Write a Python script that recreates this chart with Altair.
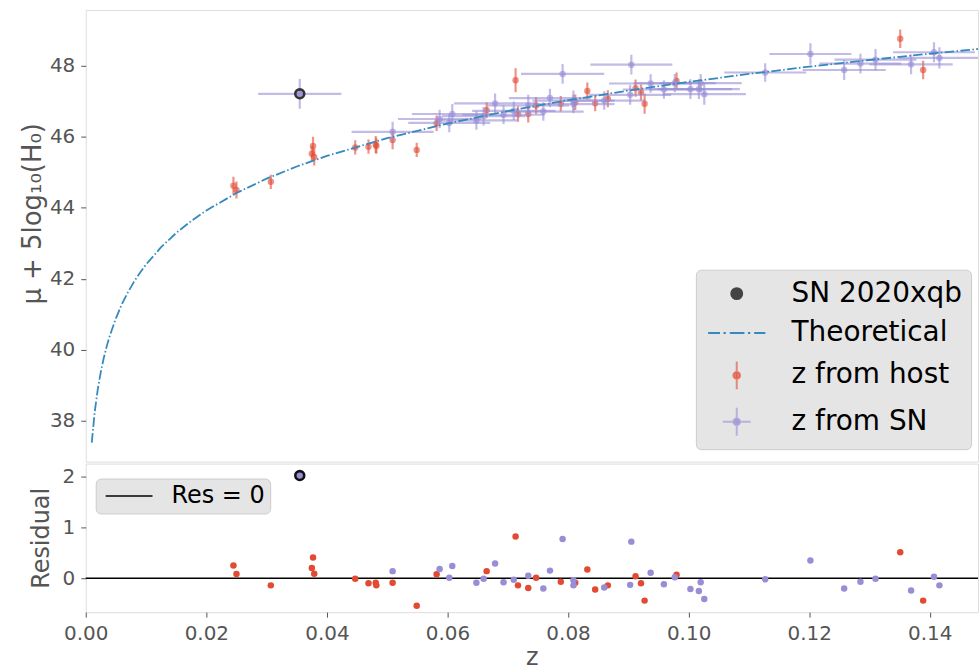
import altair as alt
import pandas as pd

C_RED = "#E24A33"
C_PURPLE = "#988ED5"
C_BLUE = "#348ABD"
GREY = "#555555"

# ---- theoretical curve ----
theory_z = [0.001, 0.0015, 0.002, 0.0025, 0.003, 0.0035, 0.004, 0.005, 0.006, 0.007, 0.008, 0.009,
            0.010, 0.0125, 0.015, 0.0175, 0.02, 0.025, 0.03, 0.035, 0.04, 0.05, 0.06, 0.07, 0.08,
            0.09, 0.10, 0.11, 0.12, 0.13, 0.14, 0.148]
theory_mu = [37.386, 38.267, 38.893, 39.378, 39.775, 40.110, 40.401, 40.887, 41.285, 41.621, 41.913, 42.170,
             42.401, 42.890, 43.290, 43.628, 43.923, 44.415, 44.820, 45.162, 45.460, 45.961, 46.373, 46.724, 47.030,
             47.301, 47.546, 47.768, 47.973, 48.162, 48.338, 48.471]

# ---- z from host ----
host_z = [0.0245, 0.0250, 0.0307, 0.0375, 0.0377, 0.0379, 0.0447, 0.0469, 0.0481, 0.0482, 0.0509, 0.0549,
          0.0582, 0.0665, 0.0713, 0.0717, 0.0734, 0.0747, 0.0788, 0.0812, 0.0832, 0.0845, 0.0866, 0.0912,
          0.0921, 0.0927, 0.0980, 0.1351, 0.1389]
host_mu = [44.62, 44.50, 44.73, 45.52, 45.74, 45.43, 45.70, 45.72, 45.78, 45.74, 45.91, 45.63,
           46.38, 46.75, 47.59, 46.64, 46.64, 46.88, 46.93, 46.97, 47.29, 46.94, 47.07, 47.37,
           47.25, 46.93, 47.57, 48.76, 47.88]
host_dmu = [0.25, 0.24, 0.20, 0.22, 0.26, 0.24, 0.20, 0.20, 0.24, 0.22, 0.26, 0.20,
            0.22, 0.22, 0.34, 0.22, 0.24, 0.24, 0.22, 0.22, 0.24, 0.22, 0.24, 0.24,
            0.22, 0.28, 0.24, 0.26, 0.26]
host_res = [0.25, 0.085, -0.14, 0.20, 0.41, 0.09, -0.01, -0.10, -0.09, -0.14, -0.09, -0.54,
            0.08, 0.14, 0.82, -0.14, -0.19, 0.01, -0.07, -0.09, 0.17, -0.22, -0.14, 0.04,
            -0.10, -0.44, 0.07, 0.51, -0.44]

# ---- z from SN ----
sn_z = [0.0509, 0.0587, 0.0603, 0.0608, 0.0648, 0.0660, 0.0679, 0.0693, 0.0710, 0.0734, 0.0759, 0.0770,
        0.0791, 0.0809, 0.0809, 0.0860, 0.0903, 0.0905, 0.0937, 0.0959, 0.0977, 0.1003, 0.1017, 0.1020,
        0.1026, 0.1127, 0.1202, 0.1258, 0.1285, 0.1310, 0.1369, 0.1407, 0.1416]
sn_mu = [46.14, 46.50, 46.39, 46.64, 46.46, 46.58, 46.94, 46.62, 46.73, 46.88, 46.71, 47.09,
         47.77, 46.92, 47.02, 47.02, 47.18, 48.03, 47.50, 47.33, 47.51, 47.34, 47.34, 47.51,
         47.20, 47.81, 48.33, 47.88, 48.06, 48.17, 48.04, 48.38, 48.22]
sn_dmu = [0.28, 0.26, 0.26, 0.28, 0.26, 0.26, 0.28, 0.26, 0.26, 0.30, 0.26, 0.26,
          0.28, 0.26, 0.28, 0.26, 0.28, 0.28, 0.26, 0.26, 0.26, 0.28, 0.28, 0.26,
          0.30, 0.26, 0.30, 0.28, 0.28, 0.30, 0.28, 0.28, 0.30]
sn_dz = [0.0068, 0.0069, 0.0068, 0.0067, 0.0068, 0.0069, 0.0068, 0.0068, 0.0069, 0.0068, 0.0067, 0.0068,
         0.0069, 0.0068, 0.0068, 0.0069, 0.0068, 0.0068, 0.0069, 0.0068, 0.0068, 0.0069, 0.0068, 0.0068,
         0.0069, 0.0068, 0.0068, 0.0069, 0.0068, 0.0068, 0.0069, 0.0068, 0.0068]
sn_res = [0.14, 0.18, 0.01, 0.24, -0.09, -0.01, 0.29, -0.08, -0.03, 0.05, -0.20, 0.15,
          0.77, -0.14, -0.04, -0.18, -0.13, 0.72, 0.11, -0.12, 0.02, -0.21, -0.25, -0.08,
          -0.41, -0.02, 0.35, -0.20, -0.07, -0.01, -0.24, 0.03, -0.14]

# ---- SN 2020xqb ----
xqb_z = [0.0355]
xqb_mu = [47.21]
xqb_dmu = [0.42]
xqb_dz = [0.0069]
xqb_res = [2.02]

legend_labels = ["SN 2020xqb", "Theoretical", "z from host", "z from SN"]
res_label = ["Res = 0"]
x_ticks = [0.0, 0.02, 0.04, 0.06, 0.08, 0.10, 0.12, 0.14]
y_top_ticks = [38, 40, 42, 44, 46, 48]
y_bot_ticks = [0, 1, 2]

# ---- tables ----
host = pd.DataFrame({"z": host_z, "mu": host_mu, "dmu": host_dmu, "res": host_res})
sn = pd.DataFrame({"z": sn_z, "mu": sn_mu, "dmu": sn_dmu, "dz": sn_dz, "res": sn_res})
xqb = pd.DataFrame({"z": xqb_z, "mu": xqb_mu, "dmu": xqb_dmu, "dz": xqb_dz, "res": xqb_res})
theory = pd.DataFrame({"z": theory_z, "mu": theory_mu})
leg_df = pd.DataFrame({"series": legend_labels, "z": [-1.0] * 4, "mu": [30.0] * 4})
zero_df = pd.DataFrame({"y": [0.0], "lab": res_label})

x_scale = alt.Scale(domain=[0, 0.148], nice=False, zero=False)
y_top = alt.Scale(domain=[36.85, 49.57], nice=False, zero=False)
y_bot = alt.Scale(domain=[-0.667, 2.255], nice=False, zero=False)

common_axis = dict(domain=False, grid=False, tickSize=5, tickColor=GREY, tickWidth=1,
                   labelColor=GREY, labelFontSize=20, labelFont="DejaVu Sans",
                   titleColor=GREY, titleFont="DejaVu Sans",
                   titleFontWeight="normal", labelPadding=6)
yax_top = alt.Axis(values=y_top_ticks, title="μ + 5log₁₀(H₀)", titlePadding=4, titleFontSize=26,
                   titleY=204, **common_axis)
yax_bot = alt.Axis(values=y_bot_ticks, title="Residual", titlePadding=9, titleFontSize=24, **common_axis)
xax_bot = alt.Axis(values=x_ticks, format=".2f", title="z", titlePadding=3, titleFontSize=24,
                   labelFlush=False, labelOverlap=False, **common_axis)

X_top = lambda f: alt.X(f, scale=x_scale, axis=None)
Y_top = lambda f: alt.Y(f, scale=y_top, axis=yax_top)

# ---- top panel ----
host_bars = alt.Chart(host).transform_calculate(
    lo="datum.mu - datum.dmu", hi="datum.mu + datum.dmu"
).mark_rule(color=C_RED, opacity=0.6, strokeWidth=2.2, clip=True).encode(
    x=X_top("z:Q"), y=Y_top("lo:Q"), y2="hi:Q")
host_pts = alt.Chart(host).mark_circle(color=C_RED, opacity=0.6, size=42, clip=True).encode(
    x=X_top("z:Q"), y=Y_top("mu:Q"))

sn_hbars = alt.Chart(sn).transform_calculate(
    zlo="datum.z - datum.dz", zhi="datum.z + datum.dz"
).mark_rule(color=C_PURPLE, opacity=0.6, strokeWidth=2.2, clip=True).encode(
    x=X_top("zlo:Q"), x2="zhi:Q", y=Y_top("mu:Q"))
sn_vbars = alt.Chart(sn).transform_calculate(
    lo="datum.mu - datum.dmu", hi="datum.mu + datum.dmu"
).mark_rule(color=C_PURPLE, opacity=0.6, strokeWidth=2.2, clip=True).encode(
    x=X_top("z:Q"), y=Y_top("lo:Q"), y2="hi:Q")
sn_pts = alt.Chart(sn).mark_circle(color=C_PURPLE, opacity=0.6, size=42, clip=True).encode(
    x=X_top("z:Q"), y=Y_top("mu:Q"))

xqb_hbar = alt.Chart(xqb).transform_calculate(
    zlo="datum.z - datum.dz", zhi="datum.z + datum.dz"
).mark_rule(color=C_PURPLE, opacity=0.6, strokeWidth=2.2, clip=True).encode(
    x=X_top("zlo:Q"), x2="zhi:Q", y=Y_top("mu:Q"))
xqb_vbar = alt.Chart(xqb).transform_calculate(
    lo="datum.mu - datum.dmu", hi="datum.mu + datum.dmu"
).mark_rule(color=C_PURPLE, opacity=0.6, strokeWidth=2.2, clip=True).encode(
    x=X_top("z:Q"), y=Y_top("lo:Q"), y2="hi:Q")
xqb_pt_a = alt.Chart(xqb).mark_circle(color=C_PURPLE, opacity=0.6, size=42, clip=True).encode(
    x=X_top("z:Q"), y=Y_top("mu:Q"))
xqb_pt_b = alt.Chart(xqb).mark_point(fill=C_PURPLE, fillOpacity=0.6, stroke="#333333", strokeWidth=2.6,
                                     opacity=1, size=80, clip=True).encode(
    x=X_top("z:Q"), y=Y_top("mu:Q"))

theory_line = alt.Chart(theory).mark_line(color=C_BLUE, strokeWidth=1.8,
                                          strokeDash=[9.6, 2.4, 1.5, 2.4], clip=True).encode(
    x=X_top("z:Q"), y=Y_top("mu:Q"))

circ = "M-{r},0A{r},{r} 0 1,0 {r},0A{r},{r} 0 1,0 -{r},0Z"
shape_paths = [
    circ.format(r=0.39),
    "M-2.05,0H-1.2M-0.95,0H-0.78M-0.5,0H0.55M0.8,0H0.97M1.25,0H2.05",
    circ.format(r=0.24) + "M0,-1V1",
    circ.format(r=0.24) + "M0,-1V1M-1,0H1",
]
leg_fill = ["#444444", "transparent", "rgba(226,74,51,0.6)", "rgba(152,142,213,0.6)"]
leg_stroke = ["#444444", C_BLUE, "rgba(226,74,51,0.6)", "rgba(152,142,213,0.6)"]

top_legend = alt.Legend(title=None, orient="none", legendX=612, legendY=260.5, padding=9,
                        fillColor="#E5E5E5", strokeColor="#CCCCCC", cornerRadius=5,
                        labelFont="DejaVu Sans", labelFontSize=28, labelColor="black",
                        labelLimit=400, symbolSize=784, symbolStrokeWidth=2, rowPadding=10.5,
                        symbolOffset=17, labelOffset=40)
legend_layer = alt.Chart(leg_df).mark_point(opacity=1, size=784, strokeWidth=2, clip=True).encode(
    x=X_top("z:Q"), y=Y_top("mu:Q"),
    fill=alt.Fill("series:N", scale=alt.Scale(domain=legend_labels, range=leg_fill), legend=top_legend),
    stroke=alt.Stroke("series:N", scale=alt.Scale(domain=legend_labels, range=leg_stroke), legend=top_legend),
    shape=alt.Shape("series:N", scale=alt.Scale(domain=legend_labels, range=shape_paths), legend=top_legend),
)

top = alt.layer(host_bars, host_pts, sn_hbars, sn_vbars, sn_pts, xqb_hbar, xqb_vbar, xqb_pt_a,
                xqb_pt_b, theory_line, legend_layer).properties(width=895, height=453)

# ---- bottom panel ----
X_bot = lambda f: alt.X(f, scale=x_scale, axis=xax_bot)
Y_bot = lambda f: alt.Y(f, scale=y_bot, axis=yax_bot)

bot_legend = alt.Legend(title=None, orient="none", legendX=10, legendY=15, padding=5,
                        fillColor="#E5E5E5", strokeColor="#CCCCCC", cornerRadius=5,
                        labelFont="DejaVu Sans", labelFontSize=24, labelColor="black",
                        symbolType="M-2,0H2", symbolSize=552, symbolStrokeWidth=1.5,
                        symbolOffset=16, labelOffset=30)
zero_rule = alt.Chart(zero_df).mark_rule(strokeWidth=1.5).encode(
    y=Y_bot("y:Q"),
    stroke=alt.Stroke("lab:N", scale=alt.Scale(domain=res_label, range=["black"]), legend=bot_legend),
)
host_res_pts = alt.Chart(host).mark_circle(color=C_RED, opacity=1, size=42, clip=True).encode(
    x=X_bot("z:Q"), y=Y_bot("res:Q"))
sn_res_pts = alt.Chart(sn).mark_circle(color=C_PURPLE, opacity=1, size=42, clip=True).encode(
    x=X_bot("z:Q"), y=Y_bot("res:Q"))
xqb_res_pt = alt.Chart(xqb).mark_point(fill=C_PURPLE, fillOpacity=1, stroke="#111111", strokeWidth=2.6,
                                       opacity=1, size=80, clip=True).encode(
    x=X_bot("z:Q"), y=Y_bot("res:Q"))

bottom = alt.layer(zero_rule, host_res_pts, sn_res_pts, xqb_res_pt).properties(width=895, height=149)

chart = alt.vconcat(top, bottom, spacing=2, bounds="flush").resolve_scale(
    fill="independent", stroke="independent", shape="independent"
).properties(
    padding={"left": 19, "top": 8, "right": 0, "bottom": 0},
    background="white",
).configure_view(fill="#E5E5E5", stroke=None).configure(font="DejaVu Sans")

chart.save("out.html", embed_options={"renderer": "svg", "actions": False})
